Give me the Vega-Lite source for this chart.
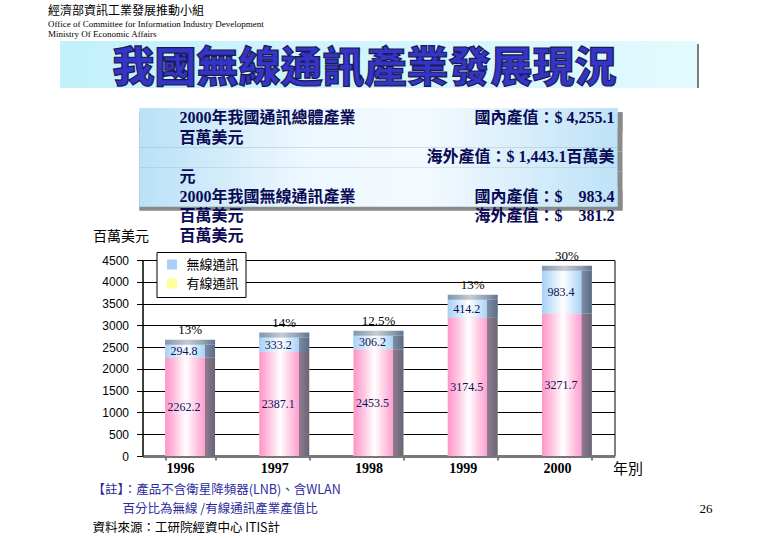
{
  "$schema": "https://vega.github.io/schema/vega-lite/v6.json",
  "background": "white",
  "autosize": {"type": "pad"},
  "padding": {"left": 48, "top": 4, "right": 0, "bottom": 0},
  "title": {
    "text": "經濟部資訊工業發展推動小組",
    "subtitle": ["Office of Committee for Information Industry Development", "Ministry Of Economic Affairs"],
    "anchor": "start",
    "dx": -12,
    "offset": 1.5,
    "font": "Noto Sans CJK TC",
    "fontSize": 12,
    "fontWeight": "normal",
    "color": "black",
    "subtitleFont": "Liberation Serif",
    "subtitleFontSize": 9,
    "subtitleColor": "black",
    "subtitlePadding": 2,
    "subtitleLineHeight": 10
  },
  "config": {"view": {"stroke": null}, "font": "Noto Sans CJK TC"},
  "resolve": {"legend": {"color": "independent"}},
  "datasets": {
    "bars": [
      {"year": "1996", "series": "有線通訊", "value": 2262.2, "share": "13%"},
      {"year": "1996", "series": "無線通訊", "value": 294.8, "share": "13%"},
      {"year": "1997", "series": "有線通訊", "value": 2387.1, "share": "14%"},
      {"year": "1997", "series": "無線通訊", "value": 333.2, "share": "14%"},
      {"year": "1998", "series": "有線通訊", "value": 2453.5, "share": "12.5%"},
      {"year": "1998", "series": "無線通訊", "value": 306.2, "share": "12.5%"},
      {"year": "1999", "series": "有線通訊", "value": 3174.5, "share": "13%"},
      {"year": "1999", "series": "無線通訊", "value": 414.2, "share": "13%"},
      {"year": "2000", "series": "有線通訊", "value": 3271.7, "share": "30%"},
      {"year": "2000", "series": "無線通訊", "value": 983.4, "share": "30%"}
    ],
    "infobox": [
      {"line": 1, "col": "left", "text": "2000年我國通訊總體產業"},
      {"line": 1, "col": "right", "text": "國內產值：$ 4,255.1"},
      {"line": 2, "col": "left", "text": "百萬美元"},
      {"line": 3, "col": "right", "text": "海外產值：$ 1,443.1百萬美"},
      {"line": 4, "col": "left", "text": "元"},
      {"line": 5, "col": "left", "text": "2000年我國無線通訊產業"},
      {"line": 5, "col": "right", "text": "國內產值：$\u00a0\u00a0\u00a0\u00a0983.4"},
      {"line": 6, "col": "left", "text": "百萬美元"},
      {"line": 6, "col": "right", "text": "海外產值：$\u00a0\u00a0\u00a0\u00a0381.2"},
      {"line": 7, "col": "left", "text": "百萬美元"}
    ],
    "footer": [
      {"line": 1, "col": "left", "kind": "note", "text": "【註】：產品不含衛星降頻器(LNB)、含WLAN"},
      {"line": 2, "col": "left", "kind": "subnote", "text": "百分比為無線 /有線通訊產業產值比"},
      {"line": 2, "col": "right", "kind": "page", "text": "26"},
      {"line": 3, "col": "left", "kind": "source", "text": "資料來源：工研院經資中心  ITIS計"}
    ]
  },
  "spacing": 0,
  "bounds": "flush",
  "center": true,
  "vconcat": [
    {
      "width": 637,
      "height": 47,
      "data": {"values": [{"heading": "我國無線通訊產業發展現況"}]},
      "layer": [
        {"mark": {"type": "rect", "color": "#7d7d7d", "xOffset": 2, "x2Offset": 2, "yOffset": 3, "y2Offset": 3}, "encoding": {}},
        {"mark": {"type": "rect", "color": {"gradient": "linear", "x1": 0, "y1": 0, "x2": 1, "y2": 0, "stops": [{"offset": 0, "color": "#c2f1fb"}, {"offset": 1, "color": "#e2fafe"}]}}, "encoding": {}},
        {"mark": {"type": "text", "fontSize": 42, "fontWeight": 900, "color": "#3434c6", "stroke": "#1a1a55", "strokeWidth": 1.2, "dx": -14, "dy": 4, "baseline": "middle"}, "encoding": {"text": {"field": "heading"}}}
      ]
    },
    {
      "width": 478,
      "height": 172,
      "data": {"name": "infobox"},
      "encoding": {
        "y": {"field": "line", "type": "ordinal", "axis": null, "scale": {"type": "band", "paddingInner": 0, "paddingOuter": 0.872, "align": 0.59}}
      },
      "layer": [
        {"transform": [{"filter": "datum.line <= 5"}], "mark": {"type": "rect", "color": "#8a8a8a", "xOffset": 5, "x2Offset": 27, "yOffset": 4, "y2Offset": 5}},
        {"transform": [{"filter": "datum.line <= 5"}], "mark": {"type": "rect", "x2Offset": 22, "y2Offset": 1, "color": {"gradient": "linear", "x1": 0, "y1": 0, "x2": 1, "y2": 0, "stops": [{"offset": 0, "color": "#b9e1f7"}, {"offset": 0.35, "color": "#eef8fe"}, {"offset": 0.6, "color": "#f3faff"}, {"offset": 1, "color": "#bde2f7"}]}}},
        {
          "transform": [{"filter": "datum.col === 'left'"}],
          "mark": {"type": "text", "align": "left", "baseline": "middle", "fontSize": 16, "fontWeight": "bold", "color": "#0b0b55", "font": "Liberation Serif, Noto Sans CJK TC"},
          "encoding": {
            "x": {"field": "col", "type": "nominal", "axis": null, "scale": {"domain": ["left", "right"], "range": [40, 475], "padding": 0}},
            "text": {"field": "text"}
          }
        },
        {
          "transform": [{"filter": "datum.col === 'right'"}],
          "mark": {"type": "text", "align": "right", "baseline": "middle", "fontSize": 16, "fontWeight": "bold", "color": "#0b0b55", "font": "Liberation Serif, Noto Sans CJK TC"},
          "encoding": {
            "x": {"field": "col", "type": "nominal", "axis": null, "scale": {"domain": ["left", "right"], "range": [40, 475], "padding": 0}},
            "text": {"field": "text"}
          }
        }
      ]
    },
    {
      "width": 472,
      "height": 196,
      "view": {"stroke": "black", "strokeWidth": 1},
      "data": {"name": "bars"},
      "encoding": {
        "x": {
          "field": "year", "type": "nominal",
          "scale": {"paddingInner": 0.47, "paddingOuter": 0.24},
          "axis": {
            "title": "年別", "labelAngle": 0, "labelFont": "Liberation Serif", "labelFontSize": 14, "labelFontWeight": "bold", "labelColor": "black",
            "labelOffset": -10, "labelPadding": 1, "tickBand": "extent", "tickColor": "black", "tickSize": 4,
            "domainColor": "#777777", "domainWidth": 3,
            "titleFont": "Noto Sans CJK TC", "titleFontSize": 15, "titleFontWeight": "normal", "titleColor": "black",
            "titleX": 470, "titleY": 12, "titleAlign": "left", "titleBaseline": "middle"
          }
        }
      },
      "layer": [
        {
          "mark": {"type": "bar"},
          "encoding": {
            "y": {
              "field": "value", "type": "quantitative", "stack": "zero",
              "scale": {"domain": [0, 4500], "nice": false},
              "axis": {
                "title": "百萬美元", "values": [0, 500, 1000, 1500, 2000, 2500, 3000, 3500, 4000, 4500], "format": "d",
                "labelFont": "Liberation Sans", "labelFontSize": 12, "labelColor": "black", "labelPadding": 8,
                "tickColor": "black", "tickSize": 6, "domainColor": "black",
                "grid": true, "gridColor": "black", "gridOpacity": 1,
                "titleAngle": 0, "titleX": -50, "titleY": -24, "titleAlign": "left", "titleBaseline": "middle",
                "titleFont": "Noto Sans CJK TC", "titleFontSize": 14, "titleFontWeight": "normal", "titleColor": "black"
              }
            },
            "color": {
              "field": "series", "type": "nominal",
              "scale": {"domain": ["無線通訊", "有線通訊"], "range": ["#a9d1f5", "#ffff9a"]},
              "legend": {
                "orient": "none", "legendX": 14, "legendY": -8, "title": null, "direction": "vertical",
                "strokeColor": "black", "fillColor": "white", "padding": 6,
                "symbolType": "square", "symbolSize": 100, "symbolStrokeWidth": 0, "symbolOffset": 3,
                "labelFont": "Noto Sans CJK TC", "labelFontSize": 13, "labelColor": "black", "rowPadding": 5, "labelOffset": 8
              }
            },
            "order": {"field": "series", "sort": "ascending"}
          }
        },
        {
          "mark": {"type": "bar"},
          "encoding": {
            "y": {
              "field": "value", "type": "quantitative", "stack": "zero",
              "scale": {"domain": [0, 4500], "nice": false},
              "axis": {
                "title": "百萬美元", "values": [0, 500, 1000, 1500, 2000, 2500, 3000, 3500, 4000, 4500], "format": "d",
                "labelFont": "Liberation Sans", "labelFontSize": 12, "labelColor": "black", "labelPadding": 8,
                "tickColor": "black", "tickSize": 6, "domainColor": "black",
                "grid": true, "gridColor": "black", "gridOpacity": 1,
                "titleAngle": 0, "titleX": -50, "titleY": -24, "titleAlign": "left", "titleBaseline": "middle",
                "titleFont": "Noto Sans CJK TC", "titleFontSize": 14, "titleFontWeight": "normal", "titleColor": "black"
              }
            },
            "detail": {"field": "series"},
            "order": {"field": "series", "sort": "ascending"},
            "color": {
              "condition": {
                "test": "datum.series === '有線通訊'",
                "value": {"gradient": "linear", "x1": 0, "y1": 0, "x2": 1, "y2": 0, "stops": [
                  {"offset": 0, "color": "#ff94c8"}, {"offset": 0.2, "color": "#ffc4e1"}, {"offset": 0.42, "color": "#ffffff"},
                  {"offset": 0.6, "color": "#ffcfe6"}, {"offset": 0.79, "color": "#ff9fce"}, {"offset": 0.795, "color": "#8f7c8e"}, {"offset": 1, "color": "#6a6478"}]}
              },
              "value": {"gradient": "linear", "x1": 0, "y1": 0, "x2": 1, "y2": 0, "stops": [
                {"offset": 0, "color": "#a6d1f6"}, {"offset": 0.2, "color": "#cfe6fa"}, {"offset": 0.42, "color": "#ffffff"},
                {"offset": 0.6, "color": "#d6eafb"}, {"offset": 0.79, "color": "#a8d2f4"}, {"offset": 0.795, "color": "#7d8ca4"}, {"offset": 1, "color": "#5d6b84"}]}
            }
          }
        },
        {
          "mark": {"type": "tick", "size": 50, "thickness": 5, "yOffset": -2.5,
            "color": {"gradient": "linear", "x1": 0, "y1": 0, "x2": 1, "y2": 0, "stops": [
              {"offset": 0, "color": "#7f95b0"}, {"offset": 0.45, "color": "#c6cbd2"}, {"offset": 0.79, "color": "#8d9db2"}, {"offset": 1, "color": "#5f7290"}]}},
          "encoding": {
            "y": {
              "aggregate": "sum", "field": "value", "type": "quantitative",
              "scale": {"domain": [0, 4500], "nice": false},
              "axis": {
                "title": "百萬美元", "values": [0, 500, 1000, 1500, 2000, 2500, 3000, 3500, 4000, 4500], "format": "d",
                "labelFont": "Liberation Sans", "labelFontSize": 12, "labelColor": "black", "labelPadding": 8,
                "tickColor": "black", "tickSize": 6, "domainColor": "black",
                "grid": true, "gridColor": "black", "gridOpacity": 1,
                "titleAngle": 0, "titleX": -50, "titleY": -24, "titleAlign": "left", "titleBaseline": "middle",
                "titleFont": "Noto Sans CJK TC", "titleFontSize": 14, "titleFontWeight": "normal", "titleColor": "black"
              }
            }
          }
        },
        {
          "mark": {"type": "text", "dy": -15, "baseline": "middle", "fontSize": 13, "font": "Liberation Serif", "color": "black"},
          "encoding": {
            "y": {
              "aggregate": "sum", "field": "value", "type": "quantitative",
              "scale": {"domain": [0, 4500], "nice": false},
              "axis": {
                "title": "百萬美元", "values": [0, 500, 1000, 1500, 2000, 2500, 3000, 3500, 4000, 4500], "format": "d",
                "labelFont": "Liberation Sans", "labelFontSize": 12, "labelColor": "black", "labelPadding": 8,
                "tickColor": "black", "tickSize": 6, "domainColor": "black",
                "grid": true, "gridColor": "black", "gridOpacity": 1,
                "titleAngle": 0, "titleX": -50, "titleY": -24, "titleAlign": "left", "titleBaseline": "middle",
                "titleFont": "Noto Sans CJK TC", "titleFontSize": 14, "titleFontWeight": "normal", "titleColor": "black"
              }
            },
            "text": {"field": "share", "type": "nominal"}
          }
        },
        {
          "transform": [
            {"stack": "value", "groupby": ["year"], "sort": [{"field": "series", "order": "ascending"}], "as": ["v0", "v1"]},
            {"fold": ["v0", "v1"], "as": ["edge", "pos"]},
            {"aggregate": [{"op": "mean", "field": "pos", "as": "mid"}], "groupby": ["year", "series", "value"]}
          ],
          "mark": {"type": "text", "dx": -6, "baseline": "middle", "fontSize": 12, "font": "Liberation Serif", "color": "#10105a"},
          "encoding": {
            "y": {
              "field": "mid", "type": "quantitative",
              "scale": {"domain": [0, 4500], "nice": false},
              "axis": {
                "title": "百萬美元", "values": [0, 500, 1000, 1500, 2000, 2500, 3000, 3500, 4000, 4500], "format": "d",
                "labelFont": "Liberation Sans", "labelFontSize": 12, "labelColor": "black", "labelPadding": 8,
                "tickColor": "black", "tickSize": 6, "domainColor": "black",
                "grid": true, "gridColor": "black", "gridOpacity": 1,
                "titleAngle": 0, "titleX": -50, "titleY": -24, "titleAlign": "left", "titleBaseline": "middle",
                "titleFont": "Noto Sans CJK TC", "titleFontSize": 14, "titleFontWeight": "normal", "titleColor": "black"
              }
            },
            "text": {"field": "value", "type": "quantitative", "format": ".1f"}
          }
        }
      ]
    },
    {
      "width": 572,
      "height": 82,
      "data": {"name": "footer"},
      "encoding": {
        "y": {"field": "line", "type": "ordinal", "axis": null, "scale": {"type": "band", "paddingInner": 0, "paddingOuter": 0.658, "align": 0.98}},
        "x": {"field": "col", "type": "nominal", "axis": null, "scale": {"domain": ["left", "right"], "range": [0, 620], "padding": 0}},
        "text": {"field": "text"}
      },
      "layer": [
        {"transform": [{"filter": "datum.kind === 'note'"}], "mark": {"type": "text", "align": "left", "baseline": "middle", "fontSize": 12.5, "color": "#2b2b9c"}},
        {"transform": [{"filter": "datum.kind === 'subnote'"}], "mark": {"type": "text", "align": "left", "baseline": "middle", "dx": 30, "fontSize": 12.5, "color": "#2b2b9c"}},
        {"transform": [{"filter": "datum.kind === 'source'"}], "mark": {"type": "text", "align": "left", "baseline": "middle", "fontSize": 12.5, "color": "black"}},
        {"transform": [{"filter": "datum.kind === 'page'"}], "mark": {"type": "text", "align": "right", "baseline": "middle", "fontSize": 13, "font": "Liberation Serif", "color": "black"}}
      ]
    }
  ]
}
